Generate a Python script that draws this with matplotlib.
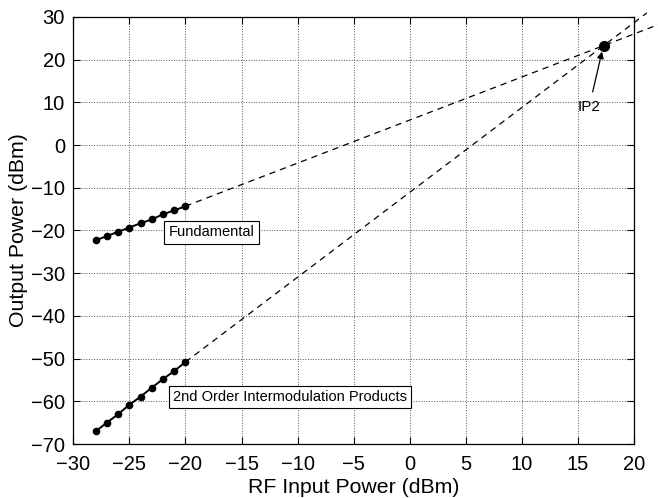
import numpy as np
import matplotlib
matplotlib.use("Agg")
import matplotlib.pyplot as plt

plt.rcParams['font.family'] = ['Liberation Sans', 'DejaVu Sans']

# ---- data ---- #
pin = [-28, -27, -26, -25, -24, -23, -22, -21, -20]
fund = [-22.3, -21.3, -20.3, -19.3, -18.3, -17.4, -16.2, -15.3, -14.3]
im2 = [-67.0, -65.0, -63.0, -60.8, -58.9, -56.8, -54.8, -52.9, -50.8]

ip2_x, ip2_y = 17.3, 23.3
fund_end_x = 22.2
im2_end_x = 21.15

# ---- extrapolated lines (through last point and IP2) ---- #
def ext(xs, ys, x_end):
    slope = (ip2_y - ys[-1]) / (ip2_x - xs[-1])
    return [xs[-1], x_end], [ys[-1], ys[-1] + slope * (x_end - xs[-1])]

fig = plt.figure(figsize=(6.58, 4.98), dpi=100)
ax = fig.add_axes([0.1114, 0.1084, 0.8521, 0.8575])

dash = (0, (5, 4))
fx, fy = ext(pin, fund, fund_end_x)
ix, iy = ext(pin, im2, im2_end_x)
ax.plot(fx, fy, color='black', lw=0.9, ls=dash, clip_on=False)
ax.plot(ix, iy, color='black', lw=0.9, ls=dash, clip_on=False)

ax.plot(pin, fund, color='black', lw=1.4, marker='o', ms=4.5)
ax.plot(pin, im2, color='black', lw=1.4, marker='o', ms=4.5)
ax.plot([ip2_x], [ip2_y], 'ko', ms=7, clip_on=False)

box = dict(boxstyle='square,pad=0.3', fc='white', ec='black', lw=0.8)
ax.text(-21.5, -20.4, 'Fundamental', fontsize=10.5, va='center', ha='left', bbox=box)
ax.text(-21.1, -59.0, '2nd Order Intermodulation Products', fontsize=10.5,
        va='center', ha='left', bbox=box)

ax.annotate('IP2', xy=(17.15, 21.9), xytext=(16.0, 8.9), fontsize=11,
            ha='center', va='center',
            arrowprops=dict(arrowstyle='-|>', color='black', lw=0.9,
                            mutation_scale=10, shrinkA=4, shrinkB=0))

ax.set_xlim(-30, 20)
ax.set_ylim(-70, 30)
ax.set_xticks(np.arange(-30, 21, 5))
ax.set_yticks(np.arange(-70, 31, 10))
ax.grid(True, ls=':', color='#555555', lw=0.7)
ax.tick_params(direction='in', top=True, right=True, length=5, labelsize=14.5)
ax.tick_params(axis='x', pad=8)
ax.tick_params(axis='y', pad=6)
for s in ax.spines.values():
    s.set_linewidth(0.9)
ax.set_xlabel('RF Input Power (dBm)', fontsize=15.3, labelpad=3)
ax.set_ylabel('Output Power (dBm)', fontsize=15.3, labelpad=2)

fig.savefig('out.png', dpi=100)
